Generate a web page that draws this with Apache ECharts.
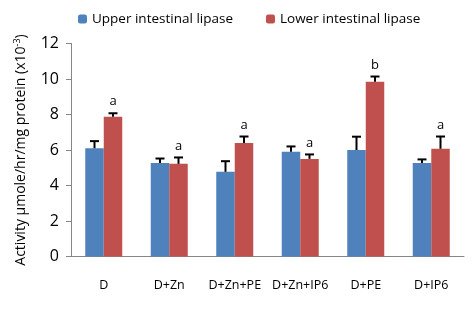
<!DOCTYPE html>
<html>
<head>
<meta charset="utf-8">
<script src="https://cdn.jsdelivr.net/npm/echarts@6/dist/echarts.min.js"></script>
<style>
  html, body { margin: 0; padding: 0; background: #fff; }
  #chart { width: 476px; height: 312px; }
</style>
</head>
<body>
<div id="chart"></div>
<script>
const categories = ['D', 'D+Zn', 'D+Zn+PE', 'D+Zn+IP6', 'D+PE', 'D+IP6']
const upperMean = [6.1, 5.27, 4.77, 5.9, 6.0, 5.27]
const upperErr = [0.4, 0.25, 0.6, 0.3, 0.75, 0.2]
const lowerMean = [7.87, 5.22, 6.4, 5.5, 9.84, 6.07]
const lowerErr = [0.2, 0.36, 0.36, 0.25, 0.3, 0.69]
const lowerLetters = ['a', 'a', 'a', 'a', 'b', 'a']

const barW = 18.5
const font = 'Open Sans'

// error bars (upward only) + significance letters
function errorSeries(means, errs, side, letters) {
  return {
    type: 'custom',
    silent: true,
    z: 5,
    data: means.map((m, i) => [i, m, m + errs[i]]),
    renderItem(params, api) {
      const i = api.value(0)
      const p0 = api.coord([i, api.value(1)])
      const p1 = api.coord([i, api.value(2)])
      const x = p0[0] + side * barW / 2
      const children = [
        { type: 'line', shape: { x1: x, y1: p0[1], x2: x, y2: p1[1] }, style: { stroke: '#000', lineWidth: 2 } },
        { type: 'line', shape: { x1: x - 4.5, y1: p1[1], x2: x + 4.5, y2: p1[1] }, style: { stroke: '#000', lineWidth: 2 } }
      ]
      if (letters) {
        children.push({
          type: 'text',
          style: {
            text: letters[i], x: x, y: p1[1] - 5,
            align: 'center', verticalAlign: 'bottom',
            fontSize: 13, fontFamily: font, fill: '#000'
          }
        })
      }
      return { type: 'group', children }
    }
  }
}

const chart = echarts.init(document.getElementById('chart'))
chart.setOption({
  animation: false,
  textStyle: { fontFamily: font },
  legend: {
    top: 7,
    left: 73,
    itemWidth: 9,
    itemHeight: 9,
    itemGap: 33,
    textStyle: { fontSize: 13.5, color: '#000', fontFamily: font },
    data: ['Upper intestinal lipase', 'Lower intestinal lipase']
  },
  grid: { left: 71, right: 12, top: 43.5, bottom: 55.5 },
  xAxis: {
    type: 'category',
    data: categories,
    axisLine: { lineStyle: { color: '#868686' } },
    axisTick: { lineStyle: { color: '#868686' }, length: 5 },
    axisLabel: { color: '#000', fontSize: 12.5, margin: 22, interval: 0, fontFamily: font }
  },
  yAxis: {
    type: 'value',
    min: 0,
    max: 12,
    interval: 2,
    axisLine: { show: true, lineStyle: { color: '#868686' } },
    axisTick: { show: true, lineStyle: { color: '#868686' }, length: 5 },
    splitLine: { show: false },
    axisLabel: { color: '#000', fontSize: 16, margin: 12, fontFamily: font },
    name: 'Activity µmole/hr/mg protein (x10{sup|-3})',
    nameLocation: 'middle',
    nameGap: 42,
    nameTextStyle: {
      color: '#000', fontSize: 14, fontFamily: font,
      rich: { sup: { fontSize: 9, verticalAlign: 'top', padding: [0, 0, 7, 0], fontFamily: font } }
    }
  },
  series: [
    {
      name: 'Upper intestinal lipase',
      type: 'bar',
      barWidth: barW,
      barGap: '0%',
      itemStyle: { color: '#4f81bd' },
      data: upperMean
    },
    {
      name: 'Lower intestinal lipase',
      type: 'bar',
      barWidth: barW,
      barGap: '0%',
      itemStyle: { color: '#c0504d' },
      data: lowerMean
    },
    errorSeries(upperMean, upperErr, -1, null),
    errorSeries(lowerMean, lowerErr, 1, lowerLetters)
  ]
})
</script>
</body>
</html>
